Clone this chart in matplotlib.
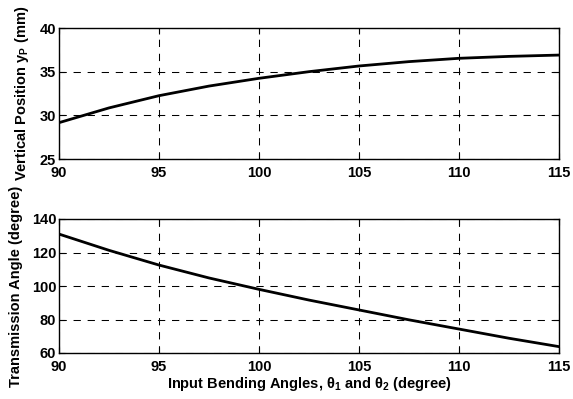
import matplotlib
matplotlib.use('Agg')
import matplotlib.pyplot as plt

plt.rcParams['font.family'] = ['Liberation Sans', 'DejaVu Sans']
plt.rcParams['font.weight'] = 'bold'
plt.rcParams['mathtext.fontset'] = 'custom'
plt.rcParams['mathtext.rm'] = 'Liberation Sans:bold'
plt.rcParams['mathtext.it'] = 'Liberation Sans:bold'
plt.rcParams['mathtext.bf'] = 'Liberation Sans:bold'

# input bending angle (degree)
theta = [90, 92.5, 95, 97.5, 100, 102.5, 105, 107.5, 110, 112.5, 115]
# vertical position y_P (mm)
y_pos = [29.16, 30.85, 32.25, 33.35, 34.24, 35.0, 35.65, 36.15, 36.53, 36.75, 36.9]
# transmission angle (degree)
trans = [131.0, 121.3, 112.5, 104.8, 98.0, 91.6, 85.7, 79.8, 74.3, 68.8, 63.8]

x_ticks = [90, 95, 100, 105, 110, 115]

fig = plt.figure(figsize=(5.73, 3.99), dpi=100)
ax1 = fig.add_axes([59/573, 1 - 159/399, 500/573, 131/399])
ax2 = fig.add_axes([59/573, 1 - 353/399, 500/573, 134/399])

ax1.plot(theta, y_pos, color='black', linewidth=2.0)
ax1.set_xlim(90, 115)
ax1.set_ylim(25, 40)
ax1.set_yticks([25, 30, 35, 40])
ax1.set_ylabel('Vertical Position y$_P$ (mm)', fontsize=10.5, fontweight='bold', labelpad=6)

ax2.plot(theta, trans, color='black', linewidth=2.0)
ax2.set_xlim(90, 115)
ax2.set_ylim(60, 140)
ax2.set_yticks([60, 80, 100, 120, 140])
ax2.set_ylabel('Transmission Angle (degree)', fontsize=10.5, fontweight='bold', labelpad=6)
ax2.set_xlabel(r'Input Bending Angles, θ$_1$ and θ$_2$ (degree)', fontsize=10.5, fontweight='bold', labelpad=1)

for ax in (ax1, ax2):
    ax.set_xticks(x_ticks)
    ax.grid(True, color='black', linestyle=(0, (7, 6.5)), linewidth=0.75)
    ax.tick_params(direction='in', top=True, right=True, labelsize=10.5, length=4, width=0.8)
    ax.tick_params(axis='x', pad=5)
    ax.tick_params(axis='y', pad=2)
    for sp in ax.spines.values():
        sp.set_linewidth(1.0)
    for lab in ax.get_xticklabels() + ax.get_yticklabels():
        lab.set_fontweight('bold')

fig.savefig('out.png', dpi=100)
